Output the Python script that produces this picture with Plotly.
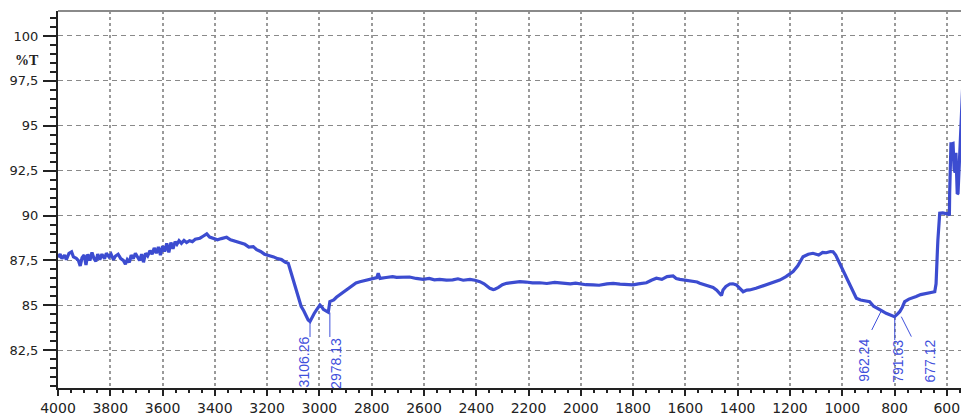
import plotly.graph_objects as go

# ---- spectrum data (wavenumber cm-1, %T) ----
wavenumber = [
    4000, 3992, 3985, 3975, 3968, 3958, 3948, 3941, 3930, 3922, 3915, 3908, 3900, 3893,
    3886, 3878, 3870, 3862, 3855, 3848, 3840, 3832, 3822, 3815, 3805, 3797, 3788, 3780,
    3770, 3760, 3750, 3742, 3735, 3727, 3720, 3712, 3704, 3696, 3688, 3680, 3673, 3665,
    3657, 3648, 3640, 3632, 3624, 3616, 3608, 3600, 3592, 3584, 3576, 3568, 3560, 3552,
    3545, 3537, 3528, 3518, 3508, 3497, 3486, 3475,
    3457, 3445, 3431, 3420, 3406, 3390, 3375, 3355, 3340, 3320, 3304, 3285, 3270, 3253,
    3240, 3225, 3210, 3195, 3175, 3160, 3145, 3130, 3119, 3110, 3100, 3090, 3080, 3070,
    3060, 3050, 3043, 3036, 3030, 3020, 3011, 2998, 2990, 2985, 2975, 2966, 2960, 2945,
    2935, 2922, 2905, 2890, 2875, 2860, 2845, 2825, 2810, 2794, 2780, 2775, 2768, 2745,
    2720, 2705, 2680, 2655, 2630, 2603, 2580, 2560, 2540, 2514, 2490, 2470, 2450, 2424,
    2405, 2386, 2370, 2358, 2348, 2335, 2329, 2315, 2300, 2284, 2260, 2233, 2210, 2185,
    2157, 2130, 2100, 2068, 2040, 2020, 2004, 1980, 1953, 1930, 1900, 1876, 1850, 1825,
    1800, 1780, 1765, 1749, 1730, 1711, 1690, 1670, 1647, 1635, 1621, 1595, 1570, 1555,
    1545, 1520, 1505, 1494, 1480, 1468, 1462, 1456, 1445, 1430, 1418, 1405, 1392, 1379,
    1365, 1354, 1330, 1303, 1280, 1260, 1239, 1215, 1188, 1170, 1150, 1130, 1112, 1090,
    1075, 1061, 1045, 1035, 1025, 1016, 1005, 997, 985, 975, 965, 955, 946, 930,
    915, 895, 880, 863, 848, 832, 815, 800, 790, 780, 770, 761, 745, 730,
    717, 700, 680, 660, 646, 641, 640, 638, 636, 634, 632, 630, 627, 615,
    600, 595, 590, 589, 586, 584, 580, 576, 572, 568, 565, 560, 557, 555,
    551, 545, 540, 538, 534, 532, 528, 525, 522, 519, 516,
]
transmittance = [
    87.68, 87.85, 87.60, 87.80, 87.55, 87.90, 87.98, 87.70, 87.62, 87.50, 87.20, 87.65, 87.80, 87.25,
    87.85, 87.50, 87.95, 87.60, 87.45, 87.85, 87.55, 87.85, 87.60, 87.90, 87.70, 87.85, 87.55, 87.75,
    87.85, 87.60, 87.50, 87.30, 87.55, 87.40, 87.80, 87.60, 87.90, 87.70, 87.50, 87.85, 87.40, 87.90,
    87.75, 88.05, 87.85, 88.20, 87.90, 88.25, 87.80, 88.30, 88.00, 88.45, 87.95, 88.50, 88.15, 88.55,
    88.40, 88.60, 88.45, 88.62, 88.50, 88.60, 88.55, 88.68,
    88.74, 88.85, 88.98, 88.80, 88.74, 88.65, 88.72, 88.79, 88.65, 88.55, 88.46, 88.40, 88.25, 88.27,
    88.10, 88.00, 87.85, 87.80, 87.70, 87.60, 87.55, 87.40, 87.34, 86.90, 86.40, 85.90, 85.40, 84.95,
    84.70, 84.40, 84.19, 84.10, 84.28, 84.55, 84.75, 85.02, 84.90, 84.78, 84.70, 84.62, 85.21, 85.30,
    85.45, 85.58, 85.80, 85.95, 86.10, 86.25, 86.32, 86.40, 86.45, 86.51, 86.55, 86.79, 86.50, 86.55,
    86.60, 86.56, 86.55, 86.58, 86.50, 86.45, 86.50, 86.42, 86.45, 86.41, 86.42, 86.48, 86.40, 86.45,
    86.40, 86.32, 86.20, 86.05, 85.95, 85.88, 85.90, 86.00, 86.15, 86.23, 86.28, 86.32, 86.30, 86.25,
    86.26, 86.22, 86.28, 86.23, 86.20, 86.24, 86.19, 86.15, 86.14, 86.12, 86.20, 86.23, 86.18, 86.15,
    86.14, 86.20, 86.22, 86.26, 86.40, 86.51, 86.45, 86.60, 86.64, 86.50, 86.45, 86.40, 86.37, 86.30,
    86.23, 86.10, 86.05, 86.00, 85.85, 85.67, 85.55, 85.86, 86.05, 86.19, 86.20, 86.14, 85.95, 85.76,
    85.85, 85.86, 85.95, 86.08, 86.20, 86.32, 86.41, 86.60, 86.88, 87.20, 87.71, 87.85, 87.90, 87.80,
    87.95, 87.93, 88.00, 87.99, 87.80, 87.53, 87.20, 86.97, 86.60, 86.30, 86.04, 85.70, 85.40, 85.30,
    85.25, 85.21, 84.95, 84.84, 84.70, 84.56, 84.45, 84.37, 84.50, 84.65, 84.90, 85.21, 85.35, 85.45,
    85.49, 85.60, 85.65, 85.70, 85.76, 86.20, 87.00, 87.50, 88.00, 88.64, 89.20, 89.60, 90.13, 90.15,
    90.10, 90.13, 90.00, 91.24, 92.70, 94.00, 94.00, 94.02, 92.60, 92.40, 93.50, 91.20, 91.24, 92.00,
    93.28, 95.90, 97.40, 97.55, 98.10, 98.01, 96.00, 95.00, 93.50, 92.54, 92.00,
]

# ---- peak annotations ----
peak_labels = ["3106.26", "2978.13", "962.24", "791.63", "677.12"]
label_wn = [3059, 2937, 918, 788, 665]
label_t = [81.88, 81.79, 81.96, 81.90, 81.92]
marker_wn_curve = [3036, 2960, 849, 799, 774]
marker_t_curve = [84.15, 84.60, 84.74, 84.30, 84.37]
marker_wn_end = [3036, 2960, 887, 799, 735.5]
marker_t_end = [83.24, 83.24, 83.63, 83.07, 83.26]

# ---- axes ticks ----
x_ticks = list(range(4000, 599, -200))
y_ticks = [82.5, 85, 87.5, 90, 92.5, 95, 97.5, 100]
y_ticktext = ["82,5", "85", "87,5", "90", "92,5", "95", "97,5", "100"]
y_unit_label = "<b>%T</b>"

LINE_BLUE = "#3c4cd0"
LABEL_BLUE = "#3f50dc"

fig = go.Figure()
fig.add_trace(go.Scatter(
    x=wavenumber, y=transmittance, mode="lines",
    line=dict(color=LINE_BLUE, width=3.2), showlegend=False, hoverinfo="skip",
))

shapes = []
for xc, yc, xe, ye in zip(marker_wn_curve, marker_t_curve, marker_wn_end, marker_t_end):
    shapes.append(dict(type="line", xref="x", yref="y", x0=xc, y0=yc, x1=xe, y1=ye,
                       line=dict(color=LABEL_BLUE, width=1)))
# top border
shapes.append(dict(type="line", xref="paper", yref="paper", x0=0, x1=1, y0=1, y1=1,
                   line=dict(color="#8a8a8a", width=2)))

annotations = []
for txt, xw, yt in zip(peak_labels, label_wn, label_t):
    annotations.append(dict(x=xw, y=yt, xref="x", yref="y", text=txt, showarrow=False,
                            textangle=-90,
                            font=dict(family="Liberation Sans Narrow, Liberation Sans, Arial", size=14,
                                      color=LABEL_BLUE)))
annotations.append(dict(x=0, y=98.66, xref="paper", yref="y", text=y_unit_label, showarrow=False,
                        xanchor="right", xshift=-17,
                        font=dict(family="Liberation Serif, DejaVu Serif", size=14, color="#222222")))

x_tick_font = dict(family="DejaVu Sans, Verdana, sans-serif", size=14, color="#222222")
y_tick_font = dict(family="DejaVu Sans, Verdana, sans-serif", size=13, color="#222222")

# the page body adds an 8px offset; the figure is sized so the plot area lands where the reference has it
fig.update_layout(
    width=961, height=407,
    margin=dict(l=50, r=0, t=3, b=27, autoexpand=False),
    paper_bgcolor="white", plot_bgcolor="white",
    shapes=shapes, annotations=annotations,
    xaxis=dict(
        range=[4000, 515], tickmode="array", tickvals=x_ticks,
        ticktext=[str(v) for v in x_ticks], automargin=False,
        ticks="outside", ticklen=6, tickwidth=1.5, tickcolor="#222",
        showline=True, linecolor="#222", linewidth=2,
        showgrid=True, gridcolor="#9a9a9a", gridwidth=2, griddash="dot",
        zeroline=False, tickfont=x_tick_font,
        minor=dict(tickmode="linear", tick0=0, dtick=50, ticks="outside", ticklen=3,
                   tickcolor="#222", showgrid=False),
    ),
    yaxis=dict(
        range=[80.40, 101.39], tickmode="array", tickvals=y_ticks, ticktext=y_ticktext,
        automargin=False,
        ticks="outside", ticklen=13, tickwidth=1.5, tickcolor="#222",
        showline=True, linecolor="#222", linewidth=2,
        showgrid=True, gridcolor="#8a8a8a", gridwidth=1, griddash="5px,4px",
        zeroline=False, tickfont=y_tick_font, ticklabelstandoff=2,
        minor=dict(tickmode="linear", tick0=0, dtick=0.5, ticks="outside", ticklen=6,
                   tickcolor="#222", showgrid=False),
    ),
)

fig.write_html("out.html")
